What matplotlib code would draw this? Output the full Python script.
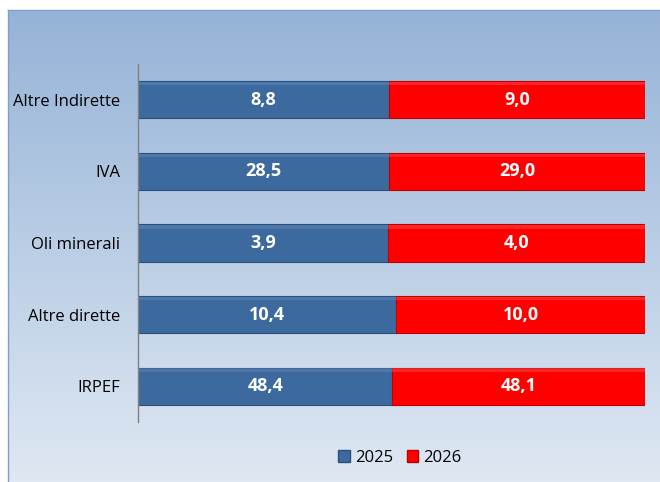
import numpy as np
import matplotlib
matplotlib.use("Agg")
import matplotlib.pyplot as plt
from matplotlib.patches import Patch

categories = ["IRPEF", "Altre dirette", "Oli minerali", "IVA", "Altre Indirette"]
values_2025 = [48.4, 10.4, 3.9, 28.5, 8.8]
values_2026 = [48.1, 10.0, 4.0, 29.0, 9.0]
series_labels = ["2025", "2026"]

plt.rcParams['font.family'] = ['Open Sans', 'DejaVu Sans']

fig = plt.figure(figsize=(6.6, 4.82), dpi=100)
fig.patch.set_facecolor("white")

# gradient background panel
bg = fig.add_axes([8/660, 0, 1 - 8/660, 1 - 10/482])
grad = np.linspace(0, 1, 256).reshape(-1, 1)
top = np.array([0x95, 0xb3, 0xd7]) / 255
bot = np.array([0xdf, 0xe8, 0xf3]) / 255
img = top[None, None, :] * (1 - grad[:, :, None]) + bot[None, None, :] * grad[:, :, None]
bg.imshow(img, aspect='auto', extent=[0, 1, 0, 1], origin='upper')
bg.set_xlim(0, 1); bg.set_ylim(0, 1)
for k, s in bg.spines.items():
    s.set_color("#7f9fc8"); s.set_linewidth(1.0)
    if k in ("right", "bottom"):
        s.set_visible(False)
bg.set_xticks([]); bg.set_yticks([])
bg.set_zorder(0)

ax = fig.add_axes([138/660, 1 - 422/482, (645 - 138)/660, (422 - 64)/482])
ax.set_zorder(1)
ax.patch.set_alpha(0)

v1 = np.array(values_2025)
v2 = np.array(values_2026)
tot = v1 + v2
s1 = v1 / tot * 100
s2 = v2 / tot * 100
y = np.arange(len(categories))
h = 0.52

blue = "#3d6a9e"
red = "#ff0000"
ax.barh(y, s1, height=h, color=blue, edgecolor="#2c4f7a", linewidth=0.8)
ax.barh(y, s2, left=s1, height=h, color=red, edgecolor="#c00000", linewidth=0.8)

# bevel highlight
ax.barh(y + h/2 - 0.035, s1, height=0.05, color="#6f94c4", linewidth=0, alpha=0.35)
ax.barh(y + h/2 - 0.035, s2, left=s1, height=0.05, color="#ff6a6a", linewidth=0, alpha=0.35)

for i in range(len(categories)):
    ax.text(s1[i] / 2, y[i], f"{v1[i]:.1f}".replace(".", ","), ha="center", va="center",
            color="white", fontsize=13, fontweight="bold")
    ax.text(s1[i] + s2[i] / 2, y[i], f"{v2[i]:.1f}".replace(".", ","), ha="center", va="center",
            color="white", fontsize=13, fontweight="bold")

ax.set_xlim(0, 100)
ax.set_ylim(-0.5, len(categories) - 0.5)
ax.set_yticks(y)
ax.set_yticklabels(categories, fontsize=12, color="black")
ax.tick_params(axis='y', length=0, pad=13)
ax.set_xticks([])
for k in ["top", "right", "bottom"]:
    ax.spines[k].set_visible(False)
ax.spines["left"].set_color("#808080")
ax.spines["left"].set_linewidth(1.0)

handles = [Patch(facecolor=blue, edgecolor="#2c4f7a", label=series_labels[0]),
           Patch(facecolor=red, edgecolor="#c00000", label=series_labels[1])]
fig.legend(handles=handles, loc="center", bbox_to_anchor=(400/660, 1 - 458/482), ncol=2,
           frameon=False, fontsize=12, handlelength=0.7, handleheight=0.7,
           handletextpad=0.3, columnspacing=0.8)

fig.savefig("out.png", dpi=100)
